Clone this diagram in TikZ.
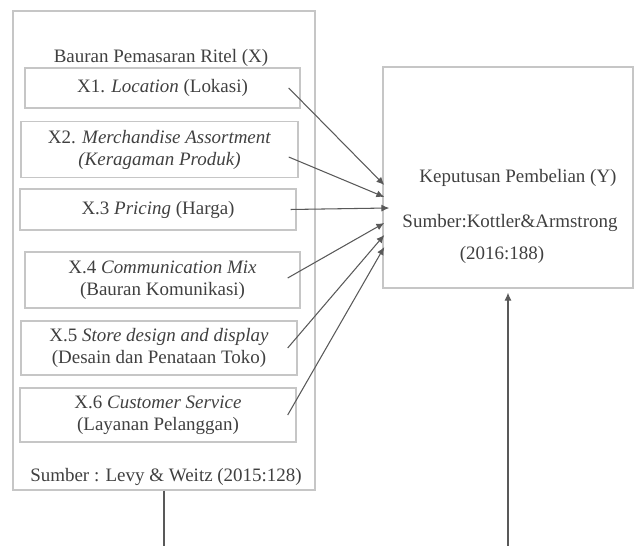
\documentclass[tikz,border=0pt]{standalone}
\usepackage{fontspec}
\setmainfont{Liberation Serif}
\usetikzlibrary{arrows.meta}

\begin{document}
\begin{tikzpicture}
	[x=0.02cm, y=-0.02cm,
	every node/.style={text=black!75, font=\fontsize{10.8}{12.5}\selectfont},
	varbox/.style={draw=gray!45, line width=0.8pt, rectangle, inner sep=0pt, align=center},
	arr/.style={draw=black!65, line width=0.6pt, -{Latex[length=4.5pt,width=4pt]}}]
	
	\useasboundingbox (0,0) rectangle (640,546);
	
	% kotak X
	\node [varbox, minimum width=302*0.02cm, minimum height=479*0.02cm] (bauran) at (164,250.5) {};
	\node (judulx) at (161,58) {Bauran Pemasaran Ritel (X)};
	\node [varbox, minimum width=275*0.02cm, minimum height=40*0.02cm] (x1) at (162.5,88)
		{X1. \textit{Location} (Lokasi)};
	\node [varbox, minimum width=277*0.02cm, minimum height=56*0.02cm] (x2) at (159.5,149.5)
		{X2. \textit{Merchandise Assortment}\\ \textit{(Keragaman Produk)}};
	\node [varbox, minimum width=276*0.02cm, minimum height=41*0.02cm] (x3) at (158,209.5)
		{X.3 \textit{Pricing} (Harga)};
	\node [varbox, minimum width=275*0.02cm, minimum height=56*0.02cm] (x4) at (162.5,280)
		{X.4 \textit{Communication Mix}\\ (Bauran Komunikasi)};
	\node [varbox, minimum width=276*0.02cm, minimum height=54*0.02cm] (x5) at (159,348)
		{X.5 \textit{Store design and display}\\ (Desain dan Penataan Toko)};
	\node [varbox, minimum width=276*0.02cm, minimum height=54*0.02cm] (x6) at (158,415)
		{X.6 \textit{Customer Service}\\ (Layanan Pelanggan)};
	\node (sumberx) at (166,477) {Sumber : Levy \& Weitz (2015:128)};
	
	% kotak Y
	\node [varbox, minimum width=250*0.02cm, minimum height=221*0.02cm] (keputusan) at (508,177.5) {};
	\node (juduly) at (518,178) {Keputusan Pembelian (Y)};
	\node (sumbery) at (510,223) {Sumber:Kottler\&Armstrong};
	\node (tahuny) at (502,255) {(2016:188)};
	
	% panah
	\draw [arr] ([shift={(-12,0)}]x1.east) -- ([shift={(2,7.5)}]keputusan.west);
	\draw [arr] ([shift={(-10,7.5)}]x2.east) -- ([shift={(2,19.5)}]keputusan.west);
	\draw [arr] ([shift={(-6,0)}]x3.east) -- ([shift={(7,30.5)}]keputusan.west);
	\draw [arr] ([shift={(-13,-2)}]x4.east) -- ([shift={(2,45.5)}]keputusan.west);
	\draw [arr] ([shift={(-10,0)}]x5.east) -- ([shift={(2,57.5)}]keputusan.west);
	\draw [arr] ([shift={(-9,0)}]x6.east) -- ([shift={(2,69.5)}]keputusan.west);
	\draw [arr] (bauran.south) -- ++(0,75) -| ([shift={(0,4)}]keputusan.south);
	
\end{tikzpicture}
\end{document}
